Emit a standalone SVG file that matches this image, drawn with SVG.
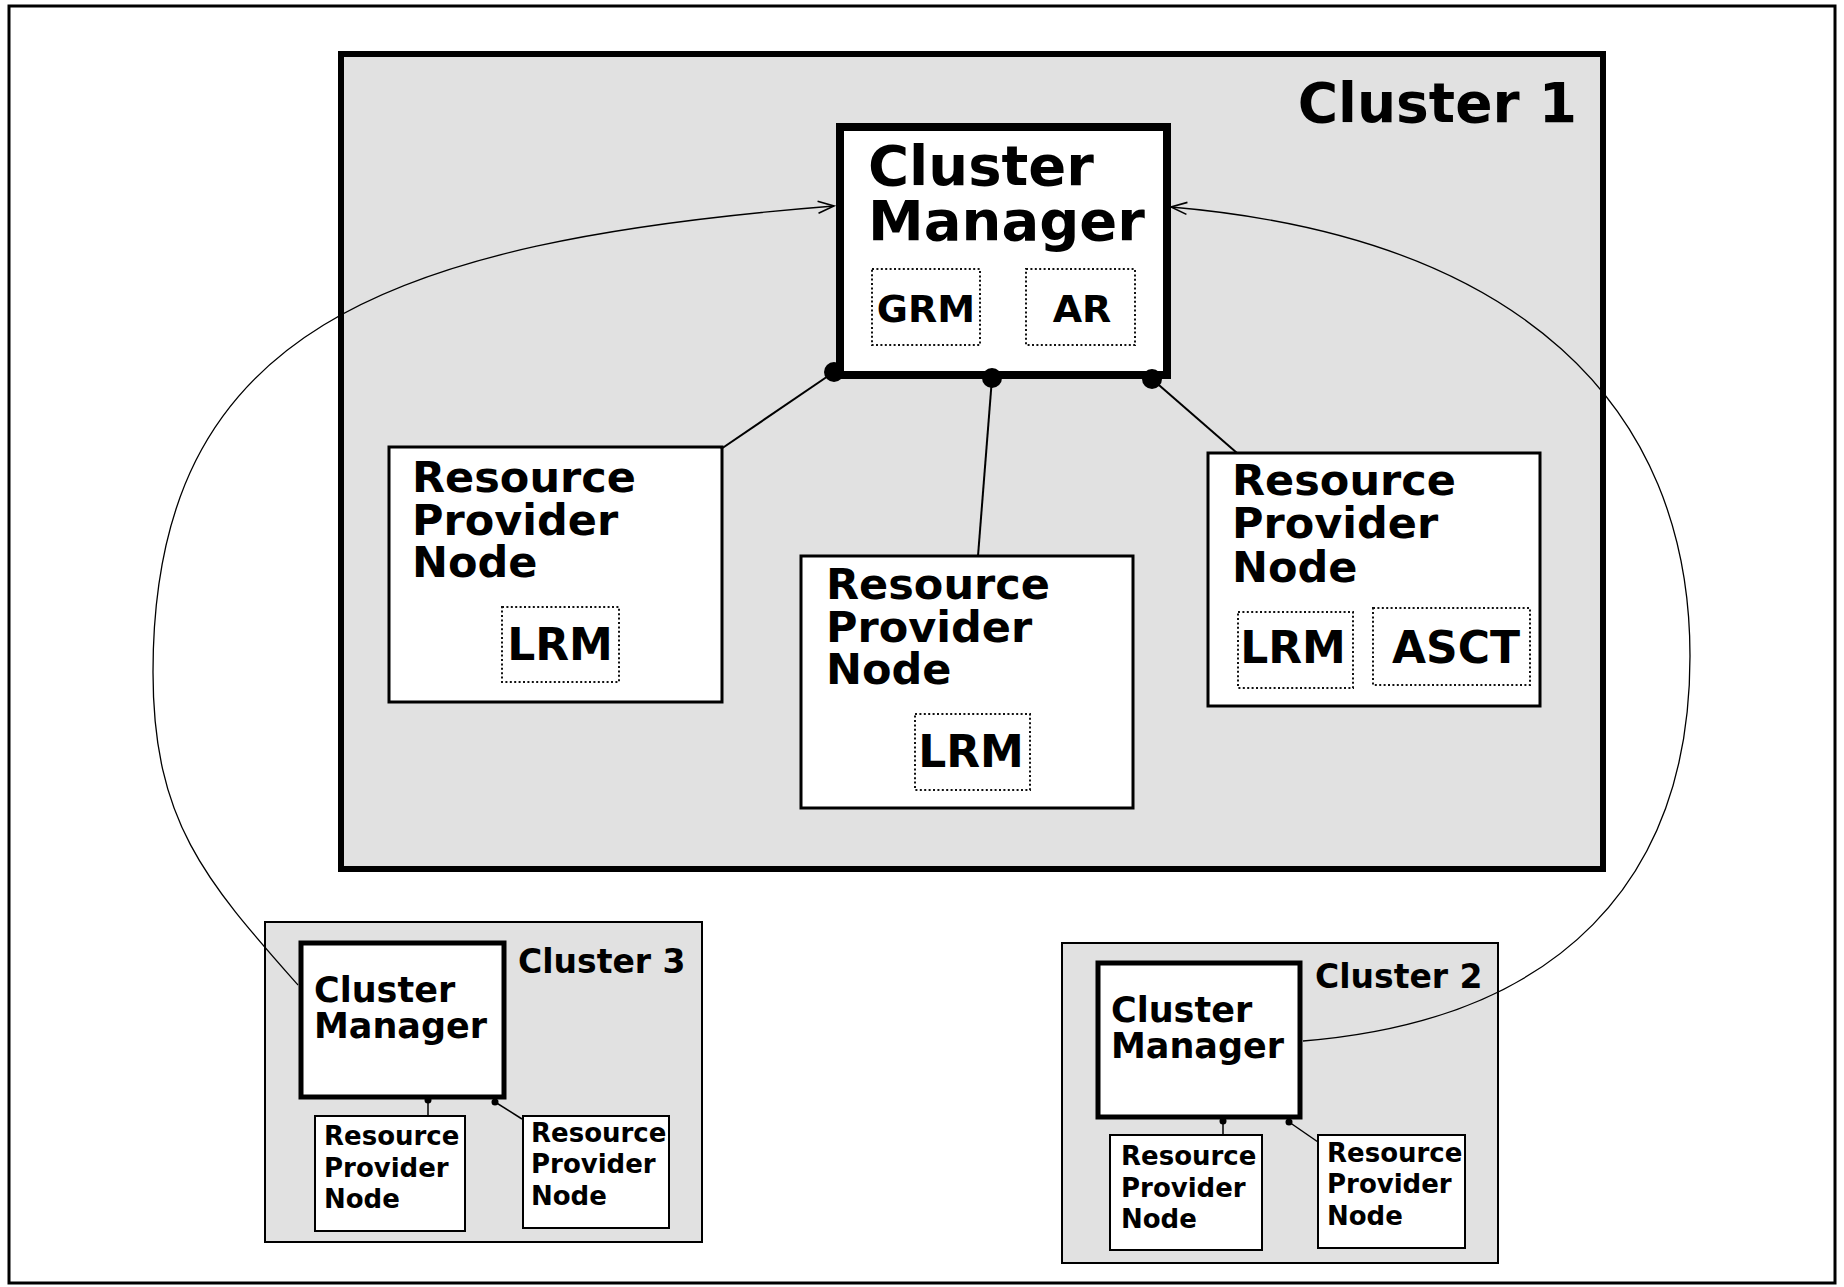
<svg xmlns="http://www.w3.org/2000/svg" width="1844" height="1287" viewBox="0 0 1844 1287">
<style>
text{font-family:"DejaVu Sans","Liberation Sans",sans-serif;font-weight:bold;fill:#000}
.cluster{fill:#e1e1e1;stroke:#000}
.box{fill:#fff;stroke:#000}
.sub{fill:#fff;stroke:#111;stroke-width:2;stroke-dasharray:2 2.4}
.link{stroke:#000;stroke-width:2;fill:none}
.thin{stroke:#000;stroke-width:1.5}
.curve{stroke:#000;stroke-width:1.3;fill:none}
</style>
<defs>
<marker id="arr" viewBox="0 0 20 20" refX="18" refY="10" markerWidth="20" markerHeight="20" markerUnits="userSpaceOnUse" orient="auto">
<path d="M2,4 L18,10 L2,16" fill="none" stroke="#000" stroke-width="1.6"/>
</marker>
</defs>
<rect x="0" y="0" width="1844" height="1287" fill="#fff"/>
<rect id="frame" x="9" y="6" width="1826" height="1277" fill="none" stroke="#000" stroke-width="3"/>

<g id="cluster1">
<rect class="cluster" x="341" y="54" width="1262" height="815" stroke-width="6"/>
<text x="1577" y="122" font-size="55" text-anchor="end">Cluster 1</text>
</g>

<g id="cm1">
<rect class="box" x="840" y="127" width="327" height="248" stroke-width="8"/>
<text font-size="56"><tspan x="868" y="185">Cluster</tspan><tspan x="868" y="240">Manager</tspan></text>
<rect class="sub" x="872" y="269" width="108" height="76"/>
<text x="926" y="322" font-size="38" text-anchor="middle">GRM</text>
<rect class="sub" x="1026" y="269" width="109" height="76"/>
<text x="1082" y="322" font-size="38" text-anchor="middle">AR</text>
</g>

<g id="rpn1a">
<rect class="box" x="389" y="447" width="333" height="255" stroke-width="3"/>
<text font-size="43"><tspan x="412" y="492">Resource</tspan><tspan x="412" y="535">Provider</tspan><tspan x="412" y="577">Node</tspan></text>
<rect class="sub" x="502" y="607" width="117" height="75"/>
<text x="560" y="660" font-size="44" text-anchor="middle">LRM</text>
</g>

<g id="rpn1b">
<rect class="box" x="801" y="556" width="332" height="252" stroke-width="3"/>
<text font-size="43"><tspan x="826" y="599">Resource</tspan><tspan x="826" y="642">Provider</tspan><tspan x="826" y="684">Node</tspan></text>
<rect class="sub" x="915" y="714" width="115" height="76"/>
<text x="971" y="767" font-size="44" text-anchor="middle">LRM</text>
</g>

<g id="rpn1c">
<rect class="box" x="1208" y="453" width="332" height="253" stroke-width="3"/>
<text font-size="43"><tspan x="1232" y="495">Resource</tspan><tspan x="1232" y="538">Provider</tspan><tspan x="1232" y="582">Node</tspan></text>
<rect class="sub" x="1238" y="612" width="115" height="76"/>
<text x="1293" y="663" font-size="44" text-anchor="middle">LRM</text>
<rect class="sub" x="1373" y="608" width="157" height="77"/>
<text x="1456" y="663" font-size="44" text-anchor="middle">ASCT</text>
</g>

<g id="cluster3">
<rect class="cluster" x="265" y="922" width="437" height="320" stroke-width="2"/>
<text x="518" y="973" font-size="33">Cluster 3</text>
</g>
<g id="cm3">
<rect class="box" x="301" y="943" width="203" height="154" stroke-width="5"/>
<text font-size="35"><tspan x="314" y="1002">Cluster</tspan><tspan x="314" y="1038">Manager</tspan></text>
</g>
<g id="rpn3a">
<rect class="box" x="315" y="1116" width="150" height="115" stroke-width="2"/>
<text font-size="26"><tspan x="324" y="1145">Resource</tspan><tspan x="324" y="1177">Provider</tspan><tspan x="324" y="1208">Node</tspan></text>
</g>
<g id="rpn3b">
<rect class="box" x="523" y="1116" width="146" height="112" stroke-width="2"/>
<text font-size="26"><tspan x="531" y="1142">Resource</tspan><tspan x="531" y="1173">Provider</tspan><tspan x="531" y="1205">Node</tspan></text>
</g>

<g id="cluster2">
<rect class="cluster" x="1062" y="943" width="436" height="320" stroke-width="2"/>
<text x="1315" y="988" font-size="33">Cluster 2</text>
</g>
<g id="cm2">
<rect class="box" x="1098" y="963" width="202" height="154" stroke-width="5"/>
<text font-size="35"><tspan x="1111" y="1022">Cluster</tspan><tspan x="1111" y="1058">Manager</tspan></text>
</g>
<g id="rpn2a">
<rect class="box" x="1110" y="1135" width="152" height="115" stroke-width="2"/>
<text font-size="26"><tspan x="1121" y="1165">Resource</tspan><tspan x="1121" y="1197">Provider</tspan><tspan x="1121" y="1228">Node</tspan></text>
</g>
<g id="rpn2b">
<rect class="box" x="1318" y="1135" width="147" height="113" stroke-width="2"/>
<text font-size="26"><tspan x="1327" y="1162">Resource</tspan><tspan x="1327" y="1193">Provider</tspan><tspan x="1327" y="1225">Node</tspan></text>
</g>

<g id="connectors">
<line class="link" x1="834" y1="372" x2="721" y2="449"/>
<line class="link" x1="992" y1="378" x2="978" y2="556"/>
<line class="link" x1="1152" y1="379" x2="1237" y2="453"/>
<circle cx="834" cy="372" r="10"/>
<circle cx="992" cy="378" r="10"/>
<circle cx="1152" cy="379" r="10"/>
<line class="thin" x1="428" y1="1100" x2="428" y2="1116"/>
<line class="thin" x1="495" y1="1102" x2="522" y2="1119"/>
<circle cx="428" cy="1100" r="3.5"/>
<circle cx="495" cy="1102" r="3.5"/>
<line class="thin" x1="1223" y1="1121" x2="1223" y2="1135"/>
<line class="thin" x1="1289" y1="1122" x2="1318" y2="1142"/>
<circle cx="1223" cy="1121" r="3.5"/>
<circle cx="1289" cy="1122" r="3.5"/>
<path class="curve" d="M298,985 C206,881 153,822 153,672 C153,332 381,242 834,206" marker-end="url(#arr)"/>
<path class="curve" d="M1303,1041 C1560,1020 1690,880 1690,656 C1690,406 1520,237 1171,207" marker-end="url(#arr)"/>
</g>
</svg>
